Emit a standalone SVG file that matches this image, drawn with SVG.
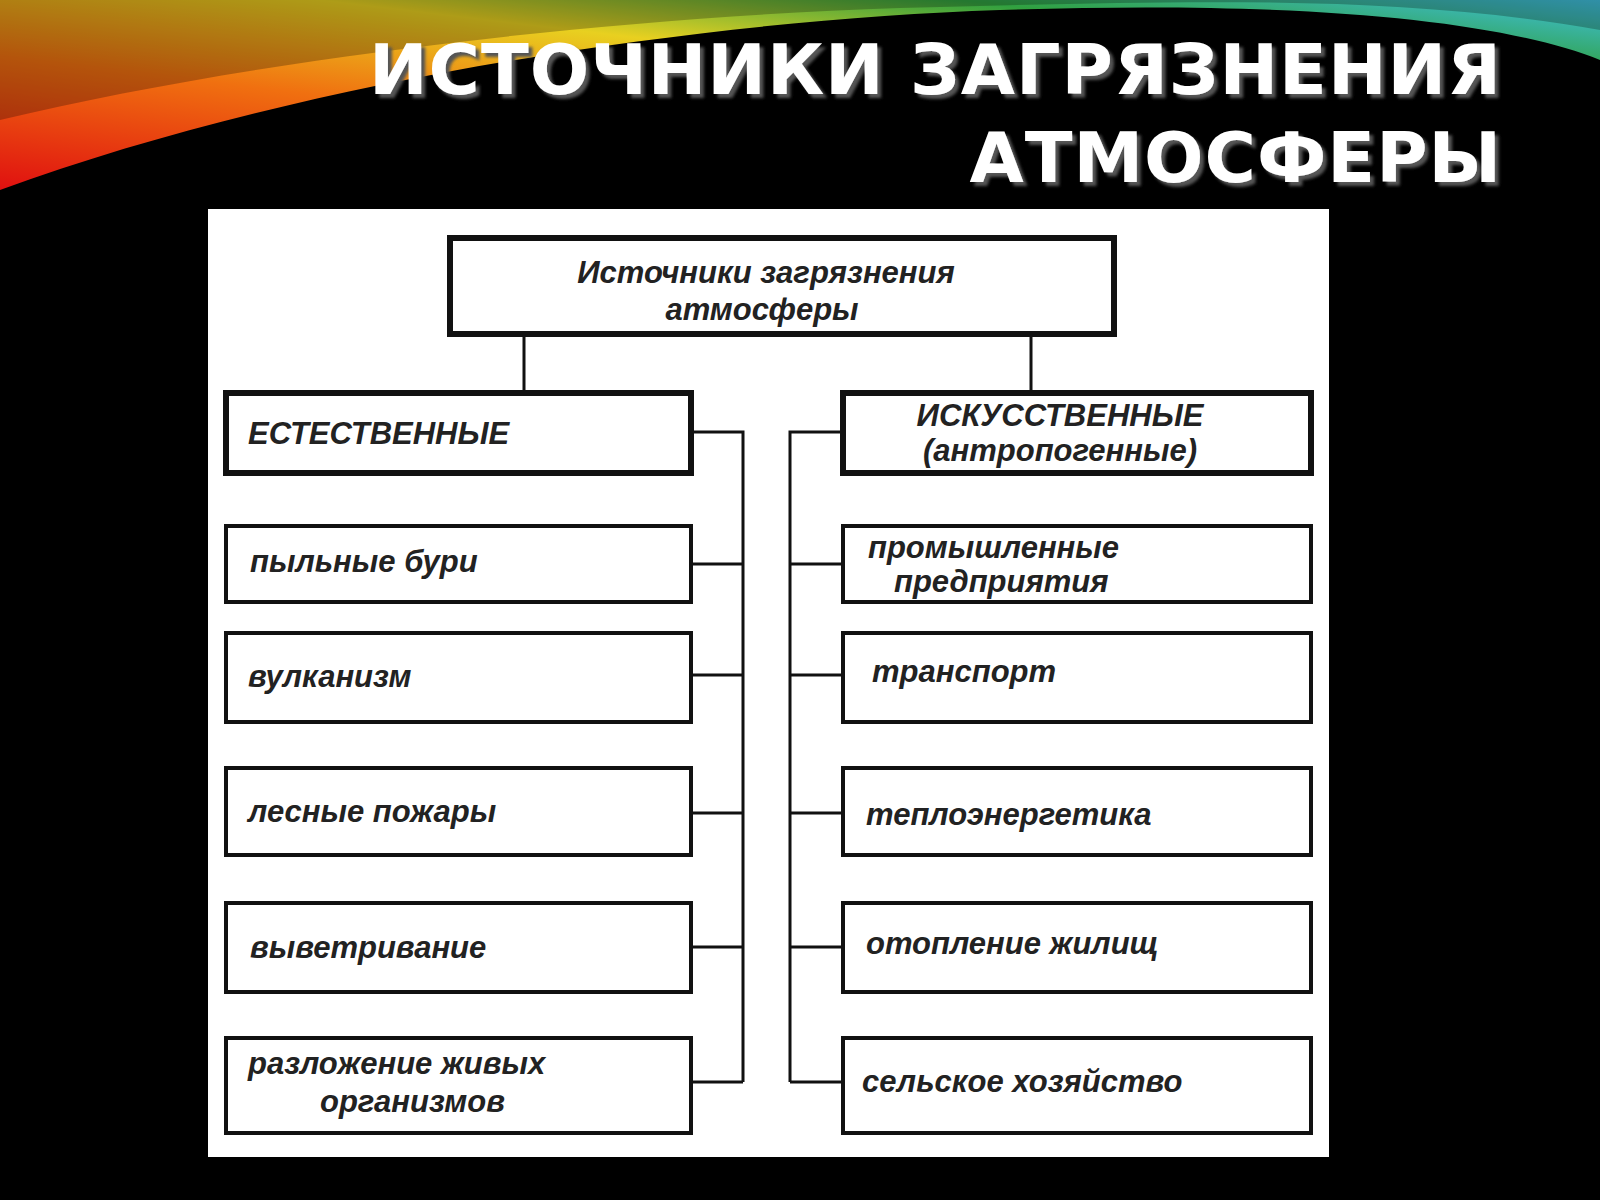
<svg xmlns="http://www.w3.org/2000/svg" width="1600" height="1200" viewBox="0 0 1600 1200">
<defs>
<linearGradient id="sw" x1="0" y1="1" x2="1" y2="0">
<stop offset="0" stop-color="#e01010"/><stop offset="0.35" stop-color="#f07010"/><stop offset="0.6" stop-color="#e8d020"/><stop offset="0.8" stop-color="#30a040"/><stop offset="1" stop-color="#40c0e0"/>
</linearGradient>
<filter id="ds" x="-5%" y="-20%" width="110%" height="140%"><feDropShadow dx="4" dy="4" stdDeviation="1.5" flood-color="#555"/></filter>
<style>
.bx{fill:#fff;stroke:#111;stroke-width:4}
.hb{fill:#fff;stroke:#111;stroke-width:6}
.t{font-family:"Liberation Sans",Arial,sans-serif;font-style:italic;font-weight:bold;font-size:31px;fill:#222}
.ln{stroke:#111;stroke-width:3;fill:none}
.ti{font-family:"DejaVu Sans",sans-serif;font-weight:bold;font-size:70px;fill:#fff;text-anchor:end;letter-spacing:1px}
</style>
</defs>
<rect width="1600" height="1200" fill="#000"/>
<path d="M0 0 H1600 V60 C1500 20 1300 0 1000 10 C700 20 300 80 0 190 Z" fill="url(#sw)"/>
<path d="M0 0 H1600 V30 C1400 -5 1200 0 900 8 C600 18 250 60 0 120 Z" fill="#000" opacity="0.25"/>
<g id="title" filter="url(#ds)">
<text class="ti" x="1502" y="94">ИСТОЧНИКИ ЗАГРЯЗНЕНИЯ</text>
<text class="ti" x="1502" y="182">АТМОСФЕРЫ</text>
</g>
<rect x="208" y="209" width="1121" height="948" fill="#fff"/>
<g id="connectors">
<path class="ln" d="M524 334 V393 M1031 334 V393"/>
<path class="ln" d="M691 432 H743 V1082 M691 564 H743 M691 675 H743 M691 813 H743 M691 947 H743 M691 1082 H743"/>
<path class="ln" d="M843 432 H790 V1082 M843 564 H790 M843 675 H790 M843 813 H790 M843 947 H790 M843 1082 H790"/>
</g>
<g id="root"><rect class="hb" x="450" y="238" width="664" height="96"/>
<text class="t" x="766" y="283" text-anchor="middle" font-weight="normal">Источники  загрязнения</text>
<text class="t" x="762" y="320" text-anchor="middle">атмосферы</text></g>
<g id="nat"><rect class="hb" x="226" y="393" width="465" height="80"/><text class="t" x="248" y="444" font-weight="normal">ЕСТЕСТВЕННЫЕ</text></g>
<g id="art"><rect class="hb" x="843" y="393" width="468" height="80"/>
<text class="t" x="1060" y="426" text-anchor="middle" font-weight="normal">ИСКУССТВЕННЫЕ</text>
<text class="t" x="1060" y="461" text-anchor="middle" font-weight="normal">(антропогенные)</text></g>
<g id="l1"><rect class="bx" x="226" y="526" width="465" height="76"/><text class="t" x="250" y="572">пыльные  бури</text></g>
<g id="l2"><rect class="bx" x="226" y="633" width="465" height="89"/><text class="t" x="248" y="687">вулканизм</text></g>
<g id="l3"><rect class="bx" x="226" y="768" width="465" height="87"/><text class="t" x="248" y="822">лесные  пожары</text></g>
<g id="l4"><rect class="bx" x="226" y="903" width="465" height="89"/><text class="t" x="250" y="958">выветривание</text></g>
<g id="l5"><rect class="bx" x="226" y="1038" width="465" height="95"/><text class="t" x="248" y="1074">разложение  живых</text><text class="t" x="320" y="1112">организмов</text></g>
<g id="r1"><rect class="bx" x="843" y="526" width="468" height="76"/><text class="t" x="868" y="558">промышленные</text><text class="t" x="894" y="592">предприятия</text></g>
<g id="r2"><rect class="bx" x="843" y="633" width="468" height="89"/><text class="t" x="872" y="682">транспорт</text></g>
<g id="r3"><rect class="bx" x="843" y="768" width="468" height="87"/><text class="t" x="866" y="825">теплоэнергетика</text></g>
<g id="r4"><rect class="bx" x="843" y="903" width="468" height="89"/><text class="t" x="866" y="954">отопление  жилищ</text></g>
<g id="r5"><rect class="bx" x="843" y="1038" width="468" height="95"/><text class="t" x="862" y="1092">сельское  хозяйство</text></g>
</svg>
